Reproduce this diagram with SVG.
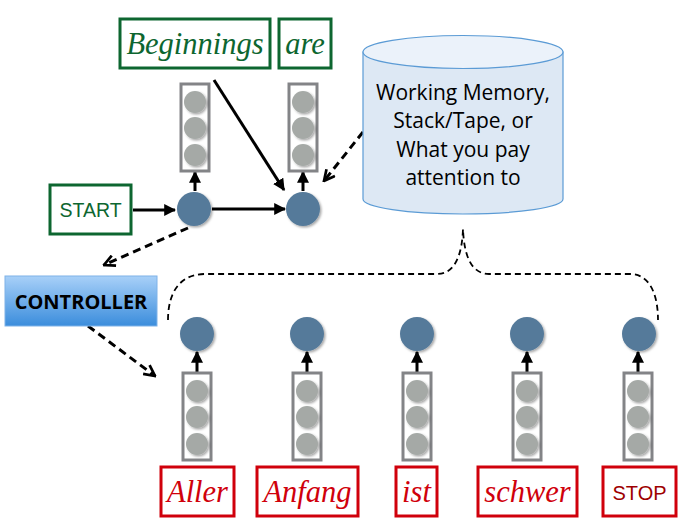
<svg xmlns="http://www.w3.org/2000/svg" width="686" height="523" viewBox="0 0 686 523">
<defs>
<style>
.gbox{fill:#fff;stroke:#0d6630;stroke-width:3}
.rbox{fill:#fff;stroke:#d0000b;stroke-width:3}
.gtxt{font-family:"Liberation Serif",serif;font-style:italic;font-size:30.5px;fill:#0d6630}
.rtxt{font-family:"Liberation Serif",serif;font-style:italic;font-size:30.5px;fill:#d0000b}
.stack{fill:#fff;stroke:#838487;stroke-width:3}
.unit{fill:#a5a9a6;filter:url(#sh)}
.node{fill:#557a9a;filter:url(#sh)}
.solid{stroke:#000;stroke-width:3;fill:none;marker-end:url(#ah)}
.dash{stroke:#000;stroke-width:3;fill:none;stroke-dasharray:8 5;marker-end:url(#oh)}
.brace{stroke:#000;stroke-width:1.8;fill:none;stroke-dasharray:6 4}
.mem{font-family:"Open Sans",sans-serif;font-size:21px;fill:#000;text-anchor:middle}
</style>
<filter id="sh" x="-30%" y="-30%" width="170%" height="170%">
<feDropShadow dx="1.5" dy="1.5" stdDeviation="1" flood-color="#000" flood-opacity="0.35"/>
</filter>
<linearGradient id="cg" x1="0" y1="0" x2="0" y2="1">
<stop offset="0" stop-color="#a8d0f8"/>
<stop offset="1" stop-color="#3b8ddc"/>
</linearGradient>
<marker id="ah" viewBox="0 0 10 10" refX="9" refY="5" markerWidth="4" markerHeight="4" orient="auto" markerUnits="strokeWidth">
<path d="M0,0 L10,5 L0,10 z" fill="#000"/>
</marker>
<marker id="oh" viewBox="0 0 10 10" refX="9" refY="5" markerWidth="4.5" markerHeight="4.5" orient="auto" markerUnits="strokeWidth">
<path d="M1,1 L9,5 L1,9" fill="none" stroke="#000" stroke-width="2"/>
</marker>
<g id="stk">
<rect class="stack" x="-14" y="0" width="28" height="87"/>
<circle class="unit" cx="0" cy="18" r="11"/>
<circle class="unit" cx="0" cy="44" r="11"/>
<circle class="unit" cx="0" cy="71" r="11"/>
</g>
</defs>
<rect width="686" height="523" fill="#fff"/>

<g id="connectors">
<line class="solid" x1="133" y1="210" x2="175" y2="210"/>
<line class="solid" x1="212" y1="209" x2="285" y2="209"/>
<line class="solid" x1="214" y1="80" x2="284" y2="190"/>
<line class="solid" x1="195" y1="191" x2="195" y2="172"/>
<line class="solid" x1="303" y1="191" x2="303" y2="172"/>
<line class="dash" x1="363" y1="132" x2="324" y2="181"/>
<line class="dash" x1="188" y1="228" x2="104" y2="265"/>
<line class="dash" x1="88" y1="326" x2="155" y2="376"/>
<line class="solid" x1="197" y1="372" x2="197" y2="352"/>
<line class="solid" x1="307" y1="372" x2="307" y2="352"/>
<line class="solid" x1="417" y1="372" x2="417" y2="352"/>
<line class="solid" x1="527" y1="372" x2="527" y2="352"/>
<line class="solid" x1="638" y1="372" x2="638" y2="352"/>
<path class="brace" d="M168,320 C168,295 178,274 205,274 L437,274 C455,274 462,255 463,229 C464,255 471,274 489,274 L630,274 C650,274 658,295 658,320"/>
</g>

<g id="beginnings"><rect class="gbox" x="120" y="19" width="150" height="49"/><text class="gtxt" x="195" y="54" text-anchor="middle">Beginnings</text></g>
<g id="are"><rect class="gbox" x="279" y="19" width="52" height="49"/><text class="gtxt" x="305" y="54" text-anchor="middle">are</text></g>
<g id="start"><rect class="gbox" x="50" y="185" width="81" height="49"/><text x="90.5" y="217" text-anchor="middle" font-family="Liberation Sans,sans-serif" font-size="19.5" fill="#0d6630">START</text></g>

<g id="stack-top-1"><use href="#stk" x="195" y="84"/></g>
<g id="stack-top-2"><use href="#stk" x="303" y="84"/></g>
<g id="node-top-1"><circle class="node" cx="194" cy="209" r="17"/></g>
<g id="node-top-2"><circle class="node" cx="303" cy="209" r="17"/></g>

<g id="memory">
<path d="M363,52 L363,199 A100,15 0 0 0 563,199 L563,52 Z" fill="#dde8f4" stroke="#5b9bd5" stroke-width="1.2"/>
<ellipse cx="463" cy="52" rx="100" ry="16.5" fill="#ebf2fa" stroke="#5b9bd5" stroke-width="1.2"/>
<text class="mem" x="463" y="100">Working Memory,</text>
<text class="mem" x="463" y="128">Stack/Tape, or</text>
<text class="mem" x="463" y="157">What you pay</text>
<text class="mem" x="463" y="185">attention to</text>
</g>

<g id="controller">
<rect x="5" y="276" width="152" height="50" fill="url(#cg)" stroke="#7fb2e8" stroke-width="1"/>
<text x="81" y="309" text-anchor="middle" font-family="Open Sans,sans-serif" font-weight="bold" font-size="20" fill="#000">CONTROLLER</text>
</g>

<g id="node-b-1"><circle class="node" cx="197" cy="334" r="17"/></g>
<g id="node-b-2"><circle class="node" cx="307" cy="334" r="17"/></g>
<g id="node-b-3"><circle class="node" cx="417" cy="334" r="17"/></g>
<g id="node-b-4"><circle class="node" cx="527" cy="334" r="17"/></g>
<g id="node-b-5"><circle class="node" cx="639" cy="334" r="17"/></g>

<g id="stack-b-1"><use href="#stk" x="197" y="373"/></g>
<g id="stack-b-2"><use href="#stk" x="307" y="373"/></g>
<g id="stack-b-3"><use href="#stk" x="417" y="373"/></g>
<g id="stack-b-4"><use href="#stk" x="527" y="373"/></g>
<g id="stack-b-5"><use href="#stk" x="638" y="373"/></g>

<g id="aller"><rect class="rbox" x="161" y="467" width="73" height="49"/><text class="rtxt" x="197.5" y="502" text-anchor="middle">Aller</text></g>
<g id="anfang"><rect class="rbox" x="257" y="467" width="101" height="49"/><text class="rtxt" x="307.5" y="502" text-anchor="middle">Anfang</text></g>
<g id="ist"><rect class="rbox" x="396" y="467" width="41" height="49"/><text class="rtxt" x="416.5" y="502" text-anchor="middle">ist</text></g>
<g id="schwer"><rect class="rbox" x="478" y="467" width="99" height="49"/><text class="rtxt" x="527.5" y="502" text-anchor="middle">schwer</text></g>
<g id="stop"><rect class="rbox" x="603" y="467" width="73" height="49"/><text x="639.5" y="500" text-anchor="middle" font-family="Liberation Sans,sans-serif" font-size="20" fill="#9e0000">STOP</text></g>
</svg>
